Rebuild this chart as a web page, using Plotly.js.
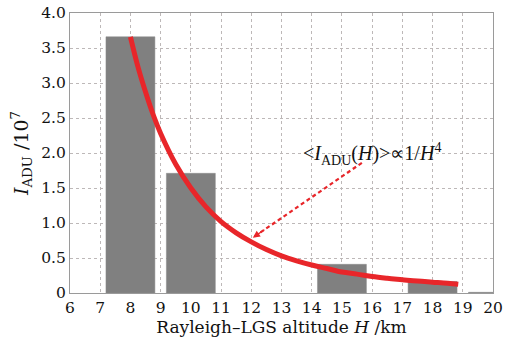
<!DOCTYPE html>
<html>
<head>
<meta charset="utf-8">
<script src="https://cdn.plot.ly/plotly-3.0.1.min.js"></script>
<style>html,body{margin:0;padding:0;background:#fff;}#chart{width:508px;height:345px;}</style>
</head>
<body>
<div id="chart"></div>
<script>
// Bars: Rayleigh-LGS altitude bins (km) and intensity (x10^7 ADU)
var barAltitude = [8, 10, 15, 18, 20];
var barIntensity = [3.66, 1.71, 0.41, 0.165, 0.01];

// Fitted curve points (~1/H^4)
var curveAltitude = [8.0, 8.25, 8.5, 8.75, 9.0, 9.5, 10.0, 10.5, 11.0, 11.5, 12.0, 12.5, 13.0, 13.5, 14.0, 14.5, 15.0, 15.5, 16.0, 16.5, 17.0, 17.5, 18.0, 18.5, 18.85];
var curveIntensity = [3.66, 3.23, 2.87, 2.55, 2.28, 1.84, 1.50, 1.23, 1.02, 0.86, 0.73, 0.62, 0.53, 0.46, 0.40, 0.35, 0.30, 0.27, 0.235, 0.21, 0.19, 0.17, 0.155, 0.14, 0.125];

var xTicks = [6, 7, 8, 9, 10, 11, 12, 13, 14, 15, 16, 17, 18, 19, 20];
var yTickVals = [0, 0.5, 1.0, 1.5, 2.0, 2.5, 3.0, 3.5, 4.0];
var yTickText = ['0', '0.5', '1.0', '1.5', '2.0', '2.5', '3.0', '3.5', '4.0'];

var arrowTail = [15.66, 1.86];
var arrowHead = [12.05, 0.79];

var traces = [
  {
    type: 'bar', x: barAltitude, y: barIntensity, width: 1.62,
    marker: {color: '#808080', line: {color: '#8a8a8a', width: 0.5}},
    hoverinfo: 'skip', showlegend: false
  },
  {
    type: 'scatter', mode: 'lines', x: curveAltitude, y: curveIntensity,
    line: {color: '#e8262a', width: 5, shape: 'spline'},
    hoverinfo: 'skip', showlegend: false
  },
  {
    type: 'scatter', mode: 'lines', x: [arrowTail[0], arrowHead[0]], y: [arrowTail[1], arrowHead[1]],
    line: {color: '#e8262a', width: 2.2, dash: '4px,3px'},
    hoverinfo: 'skip', showlegend: false
  }
];

var dx = arrowTail[0] - arrowHead[0], dy = arrowTail[1] - arrowHead[1];

var layout = {
  width: 508, height: 345,
  margin: {l: 70, r: 15, t: 13, b: 52},
  paper_bgcolor: '#fff', plot_bgcolor: '#fff',
  font: {family: 'DejaVu Serif, serif', color: '#111', size: 15},
  bargap: 0,
  xaxis: {
    range: [6, 20], tickvals: xTicks, ticktext: xTicks.map(String),
    showgrid: true, gridcolor: '#bdb8b8', griddash: 'dot', gridwidth: 1,
    showline: true, linecolor: '#9a9a9a', linewidth: 1, mirror: true,
    ticks: '', zeroline: false,
    tickfont: {family: 'DejaVu Serif, serif', size: 15.5, color: '#111'},
    title: {text: 'Rayleigh\u2013LGS altitude <i>H</i> /km', standoff: 3,
            font: {family: 'DejaVu Serif, serif', size: 17, color: '#111'}}
  },
  yaxis: {
    range: [0, 4.0], tickvals: yTickVals, ticktext: yTickText,
    showgrid: true, gridcolor: '#bdb8b8', griddash: 'dot', gridwidth: 1,
    showline: true, linecolor: '#9a9a9a', linewidth: 1, mirror: true,
    ticks: '', zeroline: false,
    tickfont: {family: 'DejaVu Serif, serif', size: 15.5, color: '#111'},
    title: {text: '<i>I</i><sub>ADU</sub> /10<sup>7</sup>', standoff: 7,
            font: {family: 'DejaVu Serif, serif', size: 19, color: '#111'}}
  },
  annotations: [
    {
      x: 16.0, y: 1.98, xref: 'x', yref: 'y', showarrow: false,
      text: '&lt;<i>I</i><sub>ADU</sub>(<i>H</i>)&gt;\u221d1/<i>H</i><sup>4</sup>',
      font: {family: 'Liberation Serif, serif', size: 20, color: '#111'}
    },
    {
      x: arrowHead[0], y: arrowHead[1], xref: 'x', yref: 'y',
      ax: arrowHead[0] + 0.12 * dx, ay: arrowHead[1] + 0.12 * dy, axref: 'x', ayref: 'y',
      text: '', showarrow: true, arrowhead: 2, arrowsize: 1.1, arrowwidth: 1.3, arrowcolor: '#e8262a'
    }
  ]
};

Plotly.newPlot('chart', traces, layout, {staticPlot: true, displayModeBar: false});
</script>
</body>
</html>
